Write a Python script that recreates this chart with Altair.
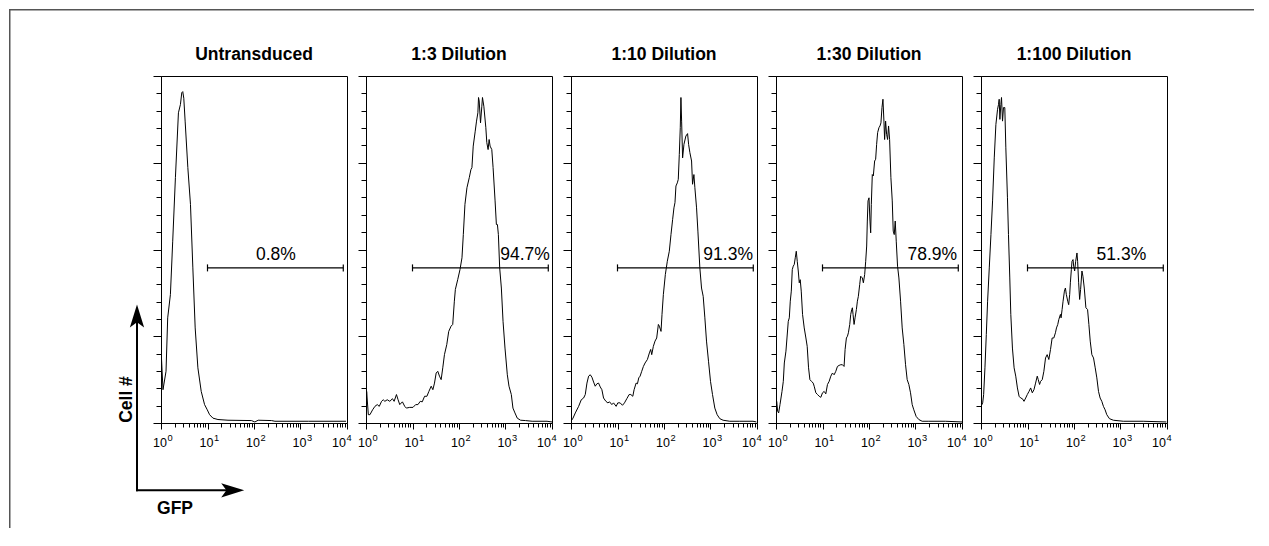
import altair as alt
import pandas as pd

# ---------------- data ----------------
PANELS = ["Untransduced", "1:3 Dilution", "1:10 Dilution", "1:30 Dilution", "1:100 Dilution"]
PCT_TEXT = ["0.8%", "94.7%", "91.3%", "78.9%", "51.3%"]
PCT_POS_LG = [2.47, 3.42, 3.38, 3.36, 3.02]     # label centre, log10(GFP)
GATE_LG = [1.0, 3.92]                          # gate limits, log10(GFP)
GATE_LEVEL = 44.7                              # gate height (% of y range)
DECADES = [0, 1, 2, 3, 4]

# histogram outlines: x = log10(GFP), y = relative cell count (0-100)
U_LG = [0, 0.01, 0.043, 0.108, 0.144, 0.202, 0.252, 0.31, 0.375, 0.418, 0.447, 0.468, 0.49, 0.519,
        0.577, 0.634, 0.685, 0.735, 0.793, 0.865, 0.937, 0.995, 1.045, 1.117, 1.225, 1.441, 1.946,
        2.018, 2.09, 2.378, 2.45, 3.171, 3.978]
U_CT = [0, 18.8, 9.6, 14.9, 30.3, 37, 52.4, 70.7, 89.4, 91.8, 95.2, 95.5, 93.6, 87, 73.6, 63, 44.7,
        27.4, 15.9, 9.1, 5.3, 3.8, 2.4, 1.4, 1.0, 0.8, 0.7, 0.3, 0.8, 0.7, 0.5, 0.5, 0.5]

D3_LG = [0, 0.014, 0.05, 0.085, 0.142, 0.192, 0.242, 0.285, 0.335, 0.37, 0.406, 0.456, 0.512, 0.569,
         0.605, 0.655, 0.69, 0.726, 0.783, 0.833, 0.868, 0.94, 1.011, 1.068, 1.117, 1.167, 1.21, 1.26,
         1.31, 1.352, 1.402, 1.438, 1.473, 1.509, 1.544, 1.58, 1.616, 1.651, 1.687, 1.737, 1.779, 1.829,
         1.865, 1.9, 1.922, 1.972, 2.021, 2.064, 2.093, 2.128, 2.171, 2.221, 2.256, 2.278, 2.306, 2.349,
         2.377, 2.406, 2.42, 2.434, 2.463, 2.491, 2.505, 2.534, 2.577, 2.598, 2.626, 2.648, 2.669, 2.705,
         2.733, 2.776, 2.804, 2.826, 2.847, 2.875, 2.911, 2.947, 2.989, 3.039, 3.075, 3.125, 3.16, 3.203,
         3.253, 3.324, 3.431, 3.573, 3.893, 4.0]
D3_CT = [0, 9.1, 2.4, 2.4, 3.8, 4.8, 5.3, 4.8, 6.25, 6.7, 6.25, 6.7, 6.25, 7.0, 6.25, 8.2, 6.7, 5.3,
         6.1, 4.8, 4.3, 4.5, 4.5, 5.3, 5.3, 6.25, 6.1, 7.7, 7.7, 9.1, 10.6, 9.6, 11.5, 14.4, 14.9, 13.5,
         12.5, 15.9, 19.7, 22.6, 26.4, 27.9, 28.4, 35.1, 38.5, 41.3, 44.2, 47.6, 54.3, 63, 67.8, 70.7, 73,
         73.6, 79.8, 84.1, 87, 89.4, 93.8, 92.8, 86.5, 91.3, 93.8, 91.3, 85.1, 80.8, 78.8, 81.7, 79.8,
         78.8, 73.6, 64, 57.2, 57.2, 54.3, 44.7, 38.9, 29.3, 21.6, 13.9, 10.6, 8.2, 4.3, 2.9, 1.4, 0.8,
         0.7, 0.5, 0.5, 0.3]

D10_LG = [0, 0.043, 0.093, 0.164, 0.221, 0.271, 0.307, 0.343, 0.379, 0.414, 0.45, 0.486, 0.521, 0.557,
          0.593, 0.629, 0.664, 0.7, 0.75, 0.793, 0.829, 0.879, 0.914, 0.971, 1.007, 1.057, 1.107, 1.15,
          1.2, 1.25, 1.286, 1.329, 1.357, 1.4, 1.429, 1.457, 1.486, 1.521, 1.557, 1.593, 1.643, 1.686,
          1.714, 1.736, 1.771, 1.807, 1.843, 1.879, 1.9, 1.936, 1.957, 1.986, 2.029, 2.071, 2.114, 2.15,
          2.186, 2.214, 2.236, 2.257, 2.286, 2.307, 2.329, 2.35, 2.364, 2.379, 2.4, 2.429, 2.471, 2.507,
          2.529, 2.557, 2.593, 2.614, 2.643, 2.664, 2.7, 2.729, 2.771, 2.807, 2.843, 2.879, 2.914, 2.957,
          3.0, 3.043, 3.093, 3.143, 3.2, 3.271, 3.414, 3.629, 3.914, 3.986]
D10_CT = [0.5, 1.4, 2.9, 4.8, 6.7, 7.2, 8.2, 11.5, 13.5, 13.9, 13.2, 11.8, 10.6, 11.3, 11.5, 10.4, 9.6,
          7.2, 6.25, 5.8, 6.1, 5.3, 5.8, 4.8, 5.8, 5.8, 5.1, 5.8, 7.0, 8.2, 8.2, 7.7, 9.6, 11.5, 11.3,
          13.0, 13.5, 14.9, 16.3, 17.3, 18.3, 20.2, 21.2, 19.7, 22.1, 23.6, 24.5, 28.4, 27.9, 26.4, 31.3,
          37, 42.8, 46.6, 49.5, 54.3, 58.7, 62, 63.5, 68.3, 69.2, 70.2, 77.4, 85.1, 93.8, 87, 76.4, 80.3,
          82.7, 83.4, 80.3, 77.9, 75.5, 68.8, 71.6, 67.8, 62, 55.3, 44.7, 38.9, 36.5, 30.3, 23.6, 17.8,
          12, 8.2, 4.3, 2.4, 1.25, 0.8, 0.5, 0.5, 0.5, 0.3]

D30_LG = [0, 0.014, 0.036, 0.057, 0.086, 0.129, 0.157, 0.179, 0.214, 0.236, 0.264, 0.286, 0.307, 0.329,
          0.35, 0.371, 0.393, 0.414, 0.436, 0.457, 0.479, 0.5, 0.521, 0.543, 0.571, 0.607, 0.643, 0.671,
          0.7, 0.729, 0.764, 0.8, 0.821, 0.857, 0.893, 0.929, 0.964, 1.0, 1.036, 1.071, 1.107, 1.143,
          1.179, 1.214, 1.25, 1.286, 1.321, 1.357, 1.393, 1.429, 1.464, 1.486, 1.514, 1.536, 1.557, 1.586,
          1.607, 1.629, 1.643, 1.657, 1.679, 1.7, 1.729, 1.75, 1.771, 1.8, 1.821, 1.857, 1.879, 1.907,
          1.929, 1.95, 1.964, 1.979, 2.0, 2.021, 2.036, 2.05, 2.071, 2.093, 2.121, 2.143, 2.164, 2.186,
          2.214, 2.236, 2.257, 2.279, 2.3, 2.321, 2.336, 2.357, 2.379, 2.4, 2.421, 2.443, 2.471, 2.5,
          2.521, 2.543, 2.564, 2.586, 2.614, 2.643, 2.679, 2.714, 2.75, 2.786, 2.821, 2.857, 2.893, 2.929,
          2.964, 3.014, 3.071, 3.143, 3.286, 3.643, 4.0]
D30_CT = [0, 6.25, 3.4, 2.9, 5.3, 9.1, 12, 17.3, 20.7, 24.5, 29.3, 30.3, 35.1, 38, 44.2, 45.2, 45.7,
          47.6, 49.5, 46.6, 43.8, 40.4, 41.3, 38, 31.3, 27.4, 24.5, 22.1, 15.9, 12.5, 12, 11.5, 10.6, 8.7,
          8.2, 7.7, 7.4, 8.7, 9.1, 8.4, 11.1, 12, 13.5, 14.4, 13.9, 14.9, 16.3, 16.6, 16.8, 16.8, 16.3,
          21.2, 24.5, 25, 26, 28.4, 31.3, 32.7, 33.2, 31.3, 28.4, 30.3, 32.7, 35.1, 36.5, 39.9, 42.3, 41.8,
          40.4, 42.8, 46.6, 51, 58.2, 64, 64.9, 58.2, 54.8, 63, 71.6, 71.2, 75.5, 76, 80.3, 83.7, 85.1,
          85.6, 86.5, 90.9, 93.3, 87, 81.7, 87, 83.2, 81.7, 85.6, 81.7, 70.7, 64, 55.3, 54.3, 58.2, 52.4,
          45.2, 41.8, 35.1, 27.4, 22.6, 16.8, 12.5, 11.1, 8.7, 5.3, 3.8, 1.9, 1.0, 0.5, 0.5, 0.5, 0.3]

D100_LG = [0, 0.036, 0.057, 0.085, 0.114, 0.142, 0.178, 0.214, 0.249, 0.285, 0.32, 0.356, 0.377, 0.391,
           0.406, 0.427, 0.441, 0.463, 0.484, 0.512, 0.534, 0.569, 0.591, 0.619, 0.641, 0.676, 0.712,
           0.747, 0.783, 0.819, 0.854, 0.89, 0.925, 0.961, 0.996, 1.032, 1.068, 1.103, 1.139, 1.174, 1.21,
           1.231, 1.26, 1.281, 1.317, 1.352, 1.388, 1.423, 1.459, 1.495, 1.53, 1.566, 1.601, 1.623, 1.651,
           1.673, 1.708, 1.722, 1.744, 1.765, 1.794, 1.815, 1.836, 1.865, 1.886, 1.907, 1.922, 1.943,
           1.957, 1.979, 1.993, 2.014, 2.036, 2.064, 2.078, 2.1, 2.121, 2.142, 2.171, 2.192, 2.221, 2.256,
           2.292, 2.32, 2.349, 2.384, 2.42, 2.456, 2.491, 2.527, 2.562, 2.598, 2.633, 2.669, 2.705, 2.762,
           2.847, 3.06, 3.488, 3.986]
D100_CT = [4.8, 5.8, 8.2, 15.9, 25.5, 35.1, 44.7, 54.3, 64, 76.4, 86, 90.4, 91.8, 93.3, 87.5, 91.8,
           93.8, 87, 90.9, 90.9, 79.3, 64.9, 54.3, 41.8, 31.3, 21.6, 15.9, 13.5, 10.1, 7.7, 7.2, 7.0,
           6.25, 7.2, 8.2, 9.1, 10.1, 8.7, 9.6, 11.5, 13.5, 12.5, 11.1, 12, 12.5, 14.9, 18.75, 19.7, 18.3,
           21.2, 24.5, 24.5, 26, 27.4, 28.4, 29.8, 31.3, 30.3, 32.7, 35.1, 38, 38.9, 37, 35.1, 34.1, 37,
           40.4, 44.2, 46.6, 47.1, 45.2, 43.8, 46.6, 49, 46.6, 40.4, 35.6, 38.5, 43.8, 42.3, 38.9, 33.2,
           32.7, 28.4, 23.6, 19.7, 18.75, 15.9, 13, 9.1, 7.2, 6.25, 4.8, 3.8, 2.4, 1.25, 0.8, 0.5, 0.5, 0.3]

CURVES = [(U_LG, U_CT), (D3_LG, D3_CT), (D10_LG, D10_CT), (D30_LG, D30_CT), (D100_LG, D100_CT)]

# ---------------- styling ----------------
W, H = 186, 347
FONT = "Liberation Sans"
BIG = 17.5

X_TICKS = [k * 10 ** d for d in range(4) for k in range(1, 10)] + [10000]
Y_TICKS = list(range(0, 101, 5))

XSCALE = alt.Scale(type="log", domain=[1, 10000], nice=False)
YSCALE = alt.Scale(domain=[0, 100], nice=False, zero=False)

X_AXIS = alt.Axis(
    values=X_TICKS, labels=False, title="", grid=False, domainColor="black",
    tickColor="black", tickWidth=1, domainWidth=1,
    tickSize={"condition": {"test": "indexof([1,10,100,1000,10000], datum.value) >= 0", "value": 6},
              "value": 4})
Y_AXIS = alt.Axis(
    values=Y_TICKS, labels=False, title="", grid=False, domainColor="black",
    tickColor="black", tickWidth=1, domainWidth=1,
    tickSize={"condition": {"test": "datum.value % 25 === 0", "value": 8}, "value": 5})


def panel(i):
    lg, ct = CURVES[i]
    curve = pd.DataFrame({"lg": lg, "count": ct})
    line = alt.Chart(curve).transform_calculate(gfp="pow(10, datum.lg)").mark_line(
        color="black", strokeWidth=1, clip=True
    ).encode(
        x=alt.X("gfp:Q", scale=XSCALE, axis=X_AXIS),
        y=alt.Y("count:Q", scale=YSCALE, axis=Y_AXIS),
        order="lg:Q",
    )

    gate_df = pd.DataFrame({"a": [GATE_LG[0]], "b": [GATE_LG[1]], "count": [GATE_LEVEL]})
    gate = alt.Chart(gate_df).transform_calculate(
        gfp="pow(10, datum.a)", gfp2="pow(10, datum.b)"
    ).mark_rule(color="black", strokeWidth=1.2).encode(
        x=alt.X("gfp:Q", scale=XSCALE, axis=X_AXIS),
        x2="gfp2:Q",
        y=alt.Y("count:Q", scale=YSCALE, axis=Y_AXIS),
    )
    caps_df = pd.DataFrame({"g": GATE_LG, "count": [GATE_LEVEL, GATE_LEVEL]})
    caps = alt.Chart(caps_df).transform_calculate(gfp="pow(10, datum.g)").mark_rule(
        color="black", strokeWidth=1.2, yOffset=-3.5, y2Offset=3.5
    ).encode(
        x=alt.X("gfp:Q", scale=XSCALE, axis=X_AXIS),
        y=alt.Y("count:Q", scale=YSCALE, axis=Y_AXIS),
        y2="count:Q",
    )
    pct_df = pd.DataFrame({"t": [PCT_TEXT[i]], "p": [PCT_POS_LG[i]], "count": [GATE_LEVEL]})
    pct = alt.Chart(pct_df).transform_calculate(gfp="pow(10, datum.p)").mark_text(
        font=FONT, fontSize=BIG, align="center", baseline="alphabetic", dy=-7.5, color="black"
    ).encode(
        x=alt.X("gfp:Q", scale=XSCALE, axis=X_AXIS),
        y=alt.Y("count:Q", scale=YSCALE, axis=Y_AXIS),
        text="t:N",
    )

    dec = alt.Chart(pd.DataFrame({"d": DECADES})).transform_calculate(gfp="pow(10, datum.d)")
    lab_main = dec.transform_filter("datum.d < 4").mark_text(
        font=FONT, fontSize=12.5, align="center", baseline="alphabetic", dx=-1, color="black"
    ).encode(x=alt.X("gfp:Q", scale=XSCALE, axis=X_AXIS), y=alt.value(H + 24), text=alt.value("10"))
    exp_main = dec.transform_filter("datum.d < 4").mark_text(
        font=FONT, fontSize=9.3, align="left", baseline="alphabetic", dx=6.5, color="black"
    ).encode(x=alt.X("gfp:Q", scale=XSCALE, axis=X_AXIS), y=alt.value(H + 18.3), text="d:N")
    lab_last = dec.transform_filter("datum.d == 4").mark_text(
        font=FONT, fontSize=12.5, align="center", baseline="alphabetic", dx=-8, color="black"
    ).encode(x=alt.X("gfp:Q", scale=XSCALE, axis=X_AXIS), y=alt.value(H + 24), text=alt.value("10"))
    exp_last = dec.transform_filter("datum.d == 4").mark_text(
        font=FONT, fontSize=9.3, align="left", baseline="alphabetic", dx=-0.5, color="black"
    ).encode(x=alt.X("gfp:Q", scale=XSCALE, axis=X_AXIS), y=alt.value(H + 18.3), text="d:N")

    title = alt.Chart(pd.DataFrame({"name": [PANELS[i]]})).mark_text(
        font=FONT, fontSize=BIG, fontWeight="bold", align="center", baseline="alphabetic", color="black"
    ).encode(x=alt.value(W / 2), y=alt.value(-15.7), text="name:N")

    layers = [line, gate, caps, pct, lab_main, exp_main, lab_last, exp_last, title]

    if i == 0:
        one = pd.DataFrame({"k": [0]})
        # outer frame as thin filled rectangles (no stroke)
        frame_top = alt.Chart(one).mark_rect(color="#555555", strokeWidth=0).encode(
            x=alt.value(-152), x2=alt.value(1093), y=alt.value(-67), y2=alt.value(-65.5))
        frame_left = alt.Chart(one).mark_rect(color="#555555", strokeWidth=0).encode(
            x=alt.value(-152), x2=alt.value(-150.5), y=alt.value(-67), y2=alt.value(452))
        v_line = alt.Chart(one).mark_rule(color="black", strokeWidth=2).encode(
            x=alt.value(-24), x2=alt.value(-24), y=alt.value(245), y2=alt.value(415.3))
        h_line = alt.Chart(one).mark_rule(color="black", strokeWidth=2).encode(
            x=alt.value(-25), x2=alt.value(66), y=alt.value(414.3), y2=alt.value(414.3))
        arrow_path = "M0,-1L0.62,1L0,0.55L-0.62,1Z"
        v_head = alt.Chart(one).mark_point(
            shape=arrow_path, filled=True, color="black", size=529, opacity=1, strokeWidth=0
        ).encode(x=alt.value(-24), y=alt.value(240))
        h_head = alt.Chart(one).mark_point(
            shape=arrow_path, filled=True, color="black", size=529, opacity=1, strokeWidth=0, angle=90
        ).encode(x=alt.value(71.7), y=alt.value(414.3))
        cell = alt.Chart(one).mark_text(
            font=FONT, fontSize=BIG, fontWeight="bold", angle=270, align="center",
            baseline="alphabetic", color="black"
        ).encode(x=alt.value(-29), y=alt.value(323.5), text=alt.value("Cell #"))
        gfp = alt.Chart(one).mark_text(
            font=FONT, fontSize=BIG, fontWeight="bold", align="center", baseline="alphabetic", color="black"
        ).encode(x=alt.value(14), y=alt.value(438.3), text=alt.value("GFP"))
        layers += [frame_top, frame_left, v_line, h_line, v_head, h_head, cell, gfp]

    return alt.layer(*layers).properties(width=W, height=H)


chart = alt.hconcat(*[panel(i) for i in range(5)], spacing=19, bounds="flush").properties(
    padding=0
).configure_view(stroke="black", strokeWidth=1)

chart.save("out.html", embed_options={"renderer": "svg", "actions": False})
